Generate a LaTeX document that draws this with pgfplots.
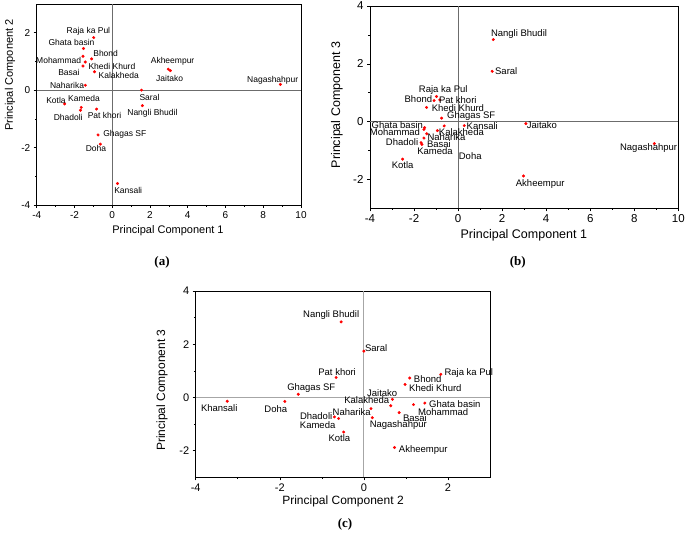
\documentclass[border=0pt]{standalone}
\usepackage{pgfplots}
\pgfplotsset{compat=1.18}
\usepackage{pgfplotstable}
\usepackage{fontspec}
\setmainfont{Liberation Sans}
\newfontfamily\serifb{Liberation Serif}

\pgfplotstableread[col sep=comma]{
label,x,y,dx,dy
Raja ka Pul,-0.98,1.83,-5.3,6.3
Ghata basin,-1.52,1.45,-12,6
Mohammad,-1.55,1.18,-24.3,-4.7
Bhond,-1.09,1.09,14,5.3
Khedi Khurd,-1.43,0.98,26.7,-4
Basai,-1.55,0.84,-14,-6
Kalakheda,-0.94,0.64,24.3,-4
Naharika,-1.42,0.17,-18.3,0
Akheempur,2.97,0.73,4.3,8.3
Jaitako,3.08,0.68,-0.7,-8
Nagashahpur,8.91,0.20,-7.7,4.3
Saral,1.55,0.00,8,-7
Kotla,-2.52,-0.48,-8.7,3.3
Kameda,-1.64,-0.60,2.7,8.7
Dhadoli,-1.68,-0.70,-12.3,-7.7
Pat khori,-0.83,-0.66,8,-6
Nangli Bhudil,1.60,-0.54,10,-7.7
Ghagas SF,-0.75,-1.56,26.7,0.3
Doha,-0.63,-1.88,-4.3,-4.7
Kansali,0.28,-3.25,10.7,-7.3
}\tabA

\pgfplotstableread[col sep=comma]{
label,x,y,dx,dy
Nangli Bhudil,1.60,2.84,25.7,5.3
Saral,1.55,1.74,14,0
Raja ka Pul,-0.98,0.87,6.7,6
Bhond,-1.09,0.73,-15.7,1
Pat khori,-0.83,0.75,18,0
Khedi Khurd,-1.43,0.49,31.3,-0.7
Ghagas SF,-0.75,0.12,29.7,2
Ghata basin,-1.52,-0.21,-27.3,2.7
Mohammad,-1.55,-0.27,-29,-3
Kalakheda,-0.94,-0.31,24,-2
Doha,-0.63,-0.15,26,-30
Kansali,0.28,-0.14,18,0
Naharika,-1.42,-0.42,19.7,-3.3
Basai,-1.55,-0.57,15,-6.3
Dhadoli,-1.68,-0.73,-19,1
Kameda,-1.64,-0.79,13,-6.7
Kotla,-2.52,-1.30,0,-5.7
Jaitako,3.08,-0.07,16,-1.7
Nagashahpur,8.91,-0.76,-5.7,-4.3
Akheempur,2.97,-1.88,16.7,-8
}\tabB

\pgfplotstableread[col sep=comma]{
label,x,y,dx,dy
Nangli Bhudil,-0.54,2.84,-10,7
Saral,0.00,1.74,12.3,3.3
Pat khori,-0.66,0.75,1,5.3
Ghagas SF,-1.56,0.12,13,6
Khansali,-3.25,-0.14,-8,-6.7
Doha,-1.88,-0.15,-9,-8
Naharika,0.17,-0.42,-19.3,-3
Dhadoli,-0.70,-0.73,-18.3,0.7
Kameda,-0.60,-0.79,-21,-7
Kotla,-0.48,-1.30,-4.3,-6
Nagashahpur,0.20,-0.76,26,-7
Kalakheda,0.64,-0.31,-24,5.3
Jaitako,0.68,-0.07,-10.3,6.7
Basai,0.84,-0.57,15.7,-5.7
Mohammad,1.18,-0.27,29.7,-7
Ghata basin,1.45,-0.21,30,-1
Bhond,1.09,0.73,18,-1
Khedi Khurd,0.98,0.49,30.3,-4
Raja ka Pul,1.83,0.87,28,1.7
Akheempur,0.73,-1.88,28.7,-2.3
}\tabC

\pgfplotsset{
  pca/.style={
    scale only axis, anchor=south west, clip=false,
    axis line style={black, line width=0.6pt},
    tick pos=left, tick align=outside, minor tick num=1,
    major tick length=3pt, minor tick length=1.6pt,
    every tick/.style={black, line width=0.5pt},
    /pgf/number format/assume math mode=true,
  },
  pts/.style={only marks, mark=*, mark size=1.3pt, color=red,
    point meta=explicit symbolic,
    visualization depends on={\thisrow{dx} \as \dx},
    visualization depends on={\thisrow{dy} \as \dy},
    nodes near coords,
    nodes near coords style={anchor=center, xshift=\dx pt, yshift=\dy pt,
      text=black, inner sep=0pt, font=\fontsize{#1}{#1}\selectfont}},
}

\begin{document}
\begin{tikzpicture}
\path[use as bounding box] (0,0) rectangle (685pt,536pt);

% (a)
\begin{axis}[pca, at={(36.7pt,331pt)}, width=264.3pt, height=201pt,
  xmin=-4, xmax=10, ymin=-4, ymax=3,
  xtick={-4,-2,0,2,4,6,8,10}, ytick={-4,-2,0,2},
  ticklabel style={font=\fontsize{10}{12}\selectfont}]
  \draw[gray!85!black, line width=0.8pt] (axis cs:0,-4) -- (axis cs:0,3);
  \draw[gray!85!black, line width=0.8pt] (axis cs:-4,0) -- (axis cs:10,0);
  \addplot[pts=8.5] table[x=x, y=y, meta=label]{\tabA};
\end{axis}
\node[font=\fontsize{11}{13}\selectfont] at (168pt,305pt) {Principal Component 1};
\node[font=\fontsize{11}{13}\selectfont, rotate=90] at (10pt,461pt) {Principal Component 2};
\node[font=\serifb\bfseries\fontsize{13}{15}\selectfont] at (162pt,274pt) {(a)};

% (b)
\begin{axis}[pca, at={(370pt,327.7pt)}, width=308.3pt, height=202.3pt,
  xmin=-4, xmax=10, ymin=-3, ymax=4,
  xtick={-4,-2,0,2,4,6,8,10}, ytick={-2,0,2,4},
  ticklabel style={font=\fontsize{11.5}{13}\selectfont}]
  \draw[gray!85!black, line width=0.8pt] (axis cs:0,-3) -- (axis cs:0,4);
  \draw[gray!85!black, line width=0.8pt] (axis cs:-4,0) -- (axis cs:10,0);
  \addplot[pts=9.5] table[x=x, y=y, meta=label]{\tabB};
\end{axis}
\node[font=\fontsize{12.5}{14}\selectfont] at (523.8pt,301pt) {Principal Component 1};
\node[font=\fontsize{12.5}{14}\selectfont, rotate=90] at (337pt,431pt) {Principal Component 3};
\node[font=\serifb\bfseries\fontsize{13}{15}\selectfont] at (517.7pt,274pt) {(b)};

% (c)
\begin{axis}[pca, at={(195.7pt,58.7pt)}, width=294.3pt, height=186.3pt,
  xmin=-4, xmax=3, ymin=-3, ymax=4,
  xtick={-4,-2,0,2}, ytick={-2,0,2,4},
  ticklabel style={font=\fontsize{11}{13}\selectfont}]
  \draw[gray!70, line width=0.8pt] (axis cs:0,-3) -- (axis cs:0,4);
  \draw[gray!70, line width=0.8pt] (axis cs:-4,0) -- (axis cs:3,0);
  \addplot[pts=9.5] table[x=x, y=y, meta=label]{\tabC};
\end{axis}
\node[font=\fontsize{12}{14}\selectfont] at (343pt,35pt) {Principal Component 2};
\node[font=\fontsize{12}{14}\selectfont, rotate=90] at (162pt,146pt) {Principal Component 3};
\node[font=\serifb\bfseries\fontsize{13}{15}\selectfont] at (345pt,12pt) {(c)};
\end{tikzpicture}
\end{document}
